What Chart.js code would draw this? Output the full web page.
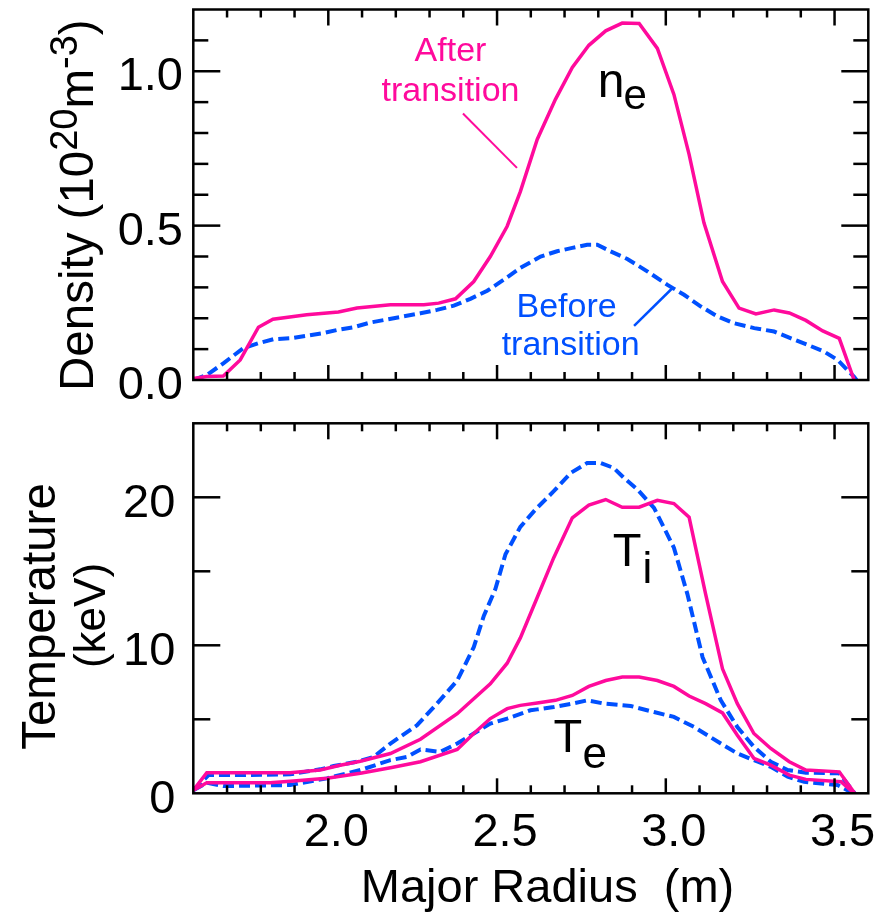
<!DOCTYPE html>
<html><head><meta charset="utf-8">
<script src="https://cdn.jsdelivr.net/npm/chart.js@4/dist/chart.umd.min.js"></script>
<style>
html,body{margin:0;padding:0;background:#fff;}
#wrap{position:relative;width:881px;height:912px;overflow:hidden;}
canvas{position:absolute;left:0;}
#c1{top:0;} #c2{top:400px;}
</style></head><body>
<div id="wrap"><canvas id="c1" width="881" height="400"></canvas><canvas id="c2" width="881" height="512"></canvas></div>
<script>
// ---------- data ----------
const rNeAfter = [1.600,1.640,1.689,1.739,1.793,1.836,1.936,2.030,2.085,2.184,2.283,2.327,2.377,2.431,2.480,2.530,2.569,2.619,2.673,2.723,2.772,2.822,2.871,2.921,2.975,3.024,3.069,3.113,3.168,3.217,3.267,3.321,3.366,3.415,3.465,3.514,3.558];
const neAfter  = [0.005,0.011,0.013,0.065,0.171,0.197,0.211,0.220,0.233,0.244,0.244,0.249,0.263,0.319,0.400,0.498,0.610,0.779,0.909,1.012,1.084,1.131,1.156,1.155,1.074,0.925,0.731,0.509,0.319,0.233,0.214,0.227,0.217,0.193,0.159,0.135,0.000];

const rNeBefore = [1.600,1.640,1.689,1.748,1.793,1.837,1.887,1.986,2.026,2.075,2.124,2.223,2.273,2.322,2.372,2.421,2.471,2.520,2.569,2.629,2.678,2.723,2.767,2.797,2.836,2.886,2.945,3.005,3.054,3.104,3.153,3.202,3.262,3.321,3.371,3.420,3.469,3.509,3.558,3.565];
const neBefore  = [0.000,0.016,0.054,0.103,0.119,0.132,0.135,0.152,0.162,0.171,0.186,0.206,0.216,0.227,0.241,0.263,0.289,0.325,0.363,0.400,0.417,0.428,0.438,0.438,0.417,0.392,0.352,0.308,0.276,0.238,0.206,0.184,0.168,0.157,0.135,0.114,0.092,0.065,0.010,0.000];

const rTiAfter = [1.600,1.640,1.887,1.976,2.035,2.095,2.184,2.273,2.382,2.480,2.530,2.569,2.619,2.668,2.723,2.772,2.822,2.871,2.921,2.975,3.024,3.069,3.118,3.168,3.212,3.261,3.311,3.366,3.415,3.514,3.563];
const tiAfter  = [0.2,1.39,1.39,1.57,1.90,2.17,2.69,3.65,5.38,7.40,8.79,10.50,13.23,15.92,18.61,19.47,19.85,19.33,19.33,19.80,19.58,18.66,13.46,8.41,6.06,4.04,3.03,2.13,1.57,1.45,-0.1];

const rTeAfter = [1.600,1.640,1.828,1.897,1.996,2.095,2.184,2.273,2.382,2.431,2.480,2.530,2.569,2.619,2.673,2.723,2.772,2.822,2.871,2.921,2.975,3.024,3.069,3.118,3.168,3.212,3.261,3.311,3.366,3.415,3.519,3.563];
const teAfter  = [0.2,0.71,0.71,0.83,1.01,1.35,1.72,2.13,2.96,4.04,5.05,5.72,5.94,6.10,6.28,6.61,7.22,7.62,7.85,7.85,7.62,7.22,6.57,6.06,5.43,3.92,2.36,1.90,1.23,0.94,0.78,-0.1];

const rTiBefore = [1.600,1.645,1.739,1.887,1.976,2.016,2.085,2.134,2.184,2.263,2.322,2.382,2.431,2.461,2.495,2.525,2.569,2.614,2.668,2.718,2.767,2.807,2.846,2.876,2.916,2.965,3.024,3.064,3.109,3.163,3.212,3.261,3.311,3.361,3.415,3.514,3.563];
const tiBefore  = [0.2,1.23,1.23,1.28,1.62,1.84,2.13,2.46,3.36,4.60,6.06,7.62,9.87,12.0,13.8,16.15,18.0,19.18,20.41,21.64,22.32,22.32,21.98,21.31,20.53,19.29,16.6,13.46,9.19,6.28,4.48,3.14,2.13,1.57,1.39,1.35,-0.1];

const rTeBefore = [1.600,1.640,1.689,1.887,1.996,2.095,2.184,2.233,2.273,2.332,2.382,2.431,2.480,2.530,2.599,2.619,2.668,2.723,2.767,2.817,2.896,2.965,3.024,3.084,3.163,3.212,3.261,3.311,3.361,3.410,3.509,3.563];
const teBefore  = [0.2,0.71,0.49,0.56,1.01,1.57,2.24,2.46,2.96,2.80,3.36,4.04,4.71,5.05,5.61,5.67,5.83,6.06,6.28,6.06,5.90,5.49,5.16,4.48,3.36,2.69,2.24,1.79,1.12,0.78,0.56,-0.1];

// tick labels / tick marks
const xTickLabels  = [2.0, 2.5, 3.0, 3.5];
const xMinorTicks  = [1.7,1.8,1.9,2.1,2.2,2.3,2.4,2.6,2.7,2.8,2.9,3.1,3.2,3.3,3.4];
const neTickLabels = [0.0, 0.5, 1.0];
const neMinorTicks = [0.1,0.2,0.3,0.4,0.6,0.7,0.8,0.9,1.1];
const tTickLabels  = [0, 10, 20];
const tMinorTicks  = [5, 15];

// ---------- styling ----------
const FONT = '"Liberation Sans", Arial, Helvetica, sans-serif';
const MAGENTA = '#ff0a9c';
const BLUE = '#0050ff';
const pts = (xs, ys) => xs.map((v, i) => ({x: v, y: ys[i]}));
const solid = (label, xs, ys) => ({label, data: pts(xs, ys), borderColor: MAGENTA, borderWidth: 3.5, pointRadius: 0, tension: 0, fill: false});
const dashed = (label, xs, ys) => ({label, data: pts(xs, ys), borderColor: BLUE, borderWidth: 4, borderDash: [11, 5], pointRadius: 0, tension: 0, fill: false});

function txt(ctx, s, x, y, size, color, align) {
  ctx.font = size + 'px ' + FONT; ctx.fillStyle = color;
  ctx.textAlign = align || 'left'; ctx.textBaseline = 'alphabetic';
  ctx.fillText(s, x, y);
}
function line(ctx, x1, y1, x2, y2, color, w) {
  ctx.beginPath(); ctx.moveTo(x1, y1); ctx.lineTo(x2, y2);
  ctx.strokeStyle = color; ctx.lineWidth = w; ctx.setLineDash([]); ctx.stroke();
}
function frameAndTicks(chart, yMajor, yMinor, yMajLen, yMinLen) {
  const {ctx, chartArea: a, scales: {x, y}} = chart;
  ctx.save();
  ctx.strokeStyle = '#000'; ctx.lineWidth = 2.5; ctx.setLineDash([]);
  ctx.lineCap = 'butt';
  const tick = (x1, y1, x2, y2) => { ctx.beginPath(); ctx.moveTo(x1, y1); ctx.lineTo(x2, y2); ctx.stroke(); };
  xTickLabels.forEach(v => { const p = x.getPixelForValue(v); tick(p, a.bottom, p, a.bottom - 15); tick(p, a.top, p, a.top + 16); });
  xMinorTicks.forEach(v => { const p = x.getPixelForValue(v); tick(p, a.bottom, p, a.bottom - 8); tick(p, a.top, p, a.top + 8); });
  yMajor.forEach(v => { const p = y.getPixelForValue(v); tick(a.left, p, a.left + yMajLen, p); tick(a.right, p, a.right - yMajLen, p); });
  yMinor.forEach(v => { const p = y.getPixelForValue(v); tick(a.left, p, a.left + yMinLen, p); tick(a.right, p, a.right - yMinLen, p); });
  ctx.strokeRect(a.left, a.top, a.right - a.left, a.bottom - a.top);
  ctx.restore();
}

const topDecor = {
  id: 'topDecor',
  afterDraw(chart) {
    const {ctx, scales: {x, y}} = chart;
    frameAndTicks(chart, neTickLabels.filter(v => v > 0), neMinorTicks, 27, 15);
    ctx.save();
    txt(ctx, 'After', x.getPixelForValue(2.362), y.getPixelForValue(1.033), 34, MAGENTA, 'center');
    txt(ctx, 'transition', x.getPixelForValue(2.362), y.getPixelForValue(0.904), 34, MAGENTA, 'center');
    line(ctx, x.getPixelForValue(2.399), y.getPixelForValue(0.863), x.getPixelForValue(2.559), y.getPixelForValue(0.687), MAGENTA, 2);
    txt(ctx, 'n', x.getPixelForValue(2.798), y.getPixelForValue(0.916), 48, '#000');
    txt(ctx, 'e', x.getPixelForValue(2.875), y.getPixelForValue(0.877), 42, '#000');
    txt(ctx, 'Before', x.getPixelForValue(2.706), y.getPixelForValue(0.2055), 34, BLUE, 'center');
    txt(ctx, 'transition', x.getPixelForValue(2.718), y.getPixelForValue(0.081), 34, BLUE, 'center');
    line(ctx, x.getPixelForValue(2.906), y.getPixelForValue(0.175), x.getPixelForValue(3.020), y.getPixelForValue(0.298), BLUE, 2.5);
    ctx.translate(93, 391); ctx.rotate(-Math.PI / 2);
    let cx = 0;
    [['Density (10', 47.5, 0], ['20', 38, -16], ['m', 47.5, 0], ['-3', 38, -16], [')', 47.5, 0]].forEach(([s, sz, dy]) => {
      txt(ctx, s, cx, dy, sz, '#000'); cx += ctx.measureText(s).width;
    });
    ctx.restore();
  }
};

const botDecor = {
  id: 'botDecor',
  afterDraw(chart) {
    const {ctx, scales: {x, y}} = chart;
    frameAndTicks(chart, tTickLabels.filter(v => v > 0), tMinorTicks, 27, 17);
    ctx.save();
    txt(ctx, 'T', x.getPixelForValue(2.843), y.getPixelForValue(15.36), 47, '#000');
    txt(ctx, 'i', x.getPixelForValue(2.931), y.getPixelForValue(14.24), 44, '#000');
    txt(ctx, 'T', x.getPixelForValue(2.667), y.getPixelForValue(2.78), 47, '#000');
    txt(ctx, 'e', x.getPixelForValue(2.753), y.getPixelForValue(1.70), 44, '#000');
    txt(ctx, 'Major Radius  (m)', 547.5, 501.7, 47, '#000', 'center');
    ctx.translate(55, 216.5); ctx.rotate(-Math.PI / 2);
    txt(ctx, 'Temperature', 0, 0, 47.5, '#000', 'center');
    txt(ctx, '(keV)', 1, 50, 44, '#000', 'center');
    ctx.restore();
  }
};

const noPad = s => { s.paddingTop = 0; s.paddingBottom = 0; s.paddingLeft = 0; s.paddingRight = 0; };
const baseOpts = () => ({
  responsive: false, animation: false, devicePixelRatio: 1,
  plugins: {legend: {display: false}, tooltip: {enabled: false}},
  elements: {line: {borderCapStyle: 'butt', borderJoinStyle: 'miter'}}
});

const o1 = baseOpts();
o1.layout = {padding: {left: 0, right: 12.7, top: 9.5, bottom: 0}};
o1.scales = {
  x: {type: 'linear', min: 1.6, max: 3.6, grid: {display: false, drawTicks: false}, border: {display: false},
      ticks: {display: false}, afterFit(s) { s.height = 20; noPad(s); }},
  y: {type: 'linear', min: 0, max: 1.2, grid: {display: false, drawTicks: false}, border: {display: false},
      afterBuildTicks(s) { s.ticks = neTickLabels.map(v => ({value: v})); },
      ticks: {font: {family: FONT, size: 47}, color: '#000', padding: 10.3, labelOffset: 6, callback: v => Number(v).toFixed(1)},
      afterFit(s) { s.width = 193.3; noPad(s); }}
};
new Chart(document.getElementById('c1'), {
  type: 'line',
  data: {datasets: [solid('After transition', rNeAfter, neAfter), dashed('Before transition', rNeBefore, neBefore)]},
  options: o1, plugins: [topDecor]
});

const o2 = baseOpts();
o2.layout = {padding: {left: 0, right: 12.7, top: 23.3, bottom: 0}};
o2.scales = {
  x: {type: 'linear', min: 1.6, max: 3.6, grid: {display: false, drawTicks: false}, border: {display: false},
      afterBuildTicks(s) { s.ticks = xTickLabels.map(v => ({value: v})); },
      ticks: {font: {family: FONT, size: 47}, color: '#000', padding: 11.5, labelOffset: 8, maxRotation: 0, autoSkip: false,
              callback: v => Number(v).toFixed(1)},
      afterFit(s) { s.height = 118.7; noPad(s); }},
  y: {type: 'linear', min: 0, max: 25, grid: {display: false, drawTicks: false}, border: {display: false},
      afterBuildTicks(s) { s.ticks = tTickLabels.map(v => ({value: v})); },
      ticks: {font: {family: FONT, size: 47}, color: '#000', padding: 18, labelOffset: 7, callback: v => String(v)},
      afterFit(s) { s.width = 193.3; noPad(s); }}
};
new Chart(document.getElementById('c2'), {
  type: 'line',
  data: {datasets: [
    solid('Ti after', rTiAfter, tiAfter), solid('Te after', rTeAfter, teAfter),
    dashed('Ti before', rTiBefore, tiBefore), dashed('Te before', rTeBefore, teBefore)]},
  options: o2, plugins: [botDecor]
});
</script>
</body></html>
